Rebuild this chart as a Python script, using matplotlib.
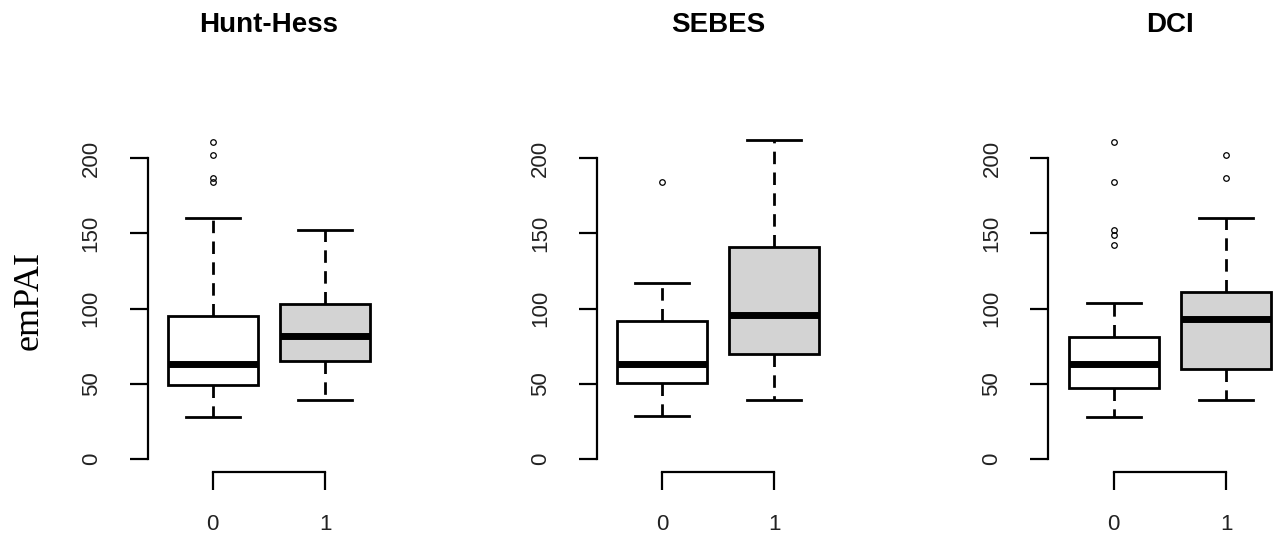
import numpy as np
import matplotlib
matplotlib.use("Agg")
import matplotlib.pyplot as plt

# groups on the x axis
groups = ["0", "1"]
titles = ["Hunt-Hess", "SEBES", "DCI"]

# box statistics: [group 0, group 1]
whislo = [[28, 39], [29, 39], [28, 39]]
q1 = [[49, 65], [50.5, 70], [47, 60]]
med = [[63, 82], [63, 96], [63, 93]]
q3 = [[95, 103], [91.5, 141], [81.5, 111]]
whishi = [[160, 152], [117, 212], [104, 160]]
fliers = [
    [[211, 202, 187, 184], []],
    [[184], []],
    [[211, 184, 152, 149, 142], [202, 187]],
]
fills = ["white", "#d3d3d3"]
yticks = [0, 50, 100, 150, 200]

W, H = 1280, 538
fig = plt.figure(figsize=(W / 100, H / 100), dpi=100)

lefts = [147.5, 596.7, 1048.3]
pw, top, bot = 243, 128, 472

for i in range(3):
    ax = fig.add_axes([lefts[i] / W, 1 - bot / H, pw / W, (bot - top) / H])
    stats = []
    for g in range(2):
        stats.append(dict(whislo=whislo[i][g], q1=q1[i][g], med=med[i][g],
                          q3=q3[i][g], whishi=whishi[i][g],
                          fliers=fliers[i][g], label=groups[g]))
    bp = ax.bxp(stats, positions=[1, 2], widths=0.8, capwidths=0.48,
                patch_artist=True,
                boxprops=dict(linewidth=2.0, edgecolor="black"),
                medianprops=dict(color="black", linewidth=5, solid_capstyle="butt"),
                whiskerprops=dict(color="black", linewidth=2.0, linestyle=(0, (4.5, 3))),
                capprops=dict(color="black", linewidth=2.0),
                flierprops=dict(marker="o", markersize=4, markerfacecolor="none",
                                markeredgecolor="black", markeredgewidth=0.9))
    for patch, c in zip(bp["boxes"], fills):
        patch.set_facecolor(c)

    ax.set_xlim(0.42, 2.58)
    ax.set_ylim(-8.5, 220)
    for s in ["top", "right"]:
        ax.spines[s].set_visible(False)
    ax.spines["left"].set_bounds(0, 200)
    ax.spines["bottom"].set_bounds(1, 2)
    ax.spines["left"].set_linewidth(1.6)
    ax.spines["bottom"].set_linewidth(1.6)
    ax.set_yticks(yticks)
    ax.set_yticklabels([str(t) for t in yticks], rotation=90, va="center")
    ax.set_xticks([1, 2])
    ax.set_xticklabels(groups)
    ax.tick_params(axis="y", direction="out", length=13, width=1.6, pad=20,
                   labelsize=16, labelcolor="#222222")
    ax.tick_params(axis="x", direction="out", length=13, width=1.6, pad=17,
                   labelsize=16, labelcolor="#222222")
    for lab in ax.get_xticklabels() + ax.get_yticklabels():
        lab.set_family("Liberation Sans")
    ax.patch.set_visible(False)

    cx = (lefts[i] + pw / 2) / W
    fig.text(cx, 1 - 25 / H, titles[i], ha="center", va="center",
             fontsize=20, fontweight="bold", family="Liberation Sans")

fig.text(29 / W, 1 - 300 / H, "emPAI", rotation=90, ha="center", va="center",
         fontsize=26, family="Liberation Serif")

fig.savefig("out.png", dpi=100)
